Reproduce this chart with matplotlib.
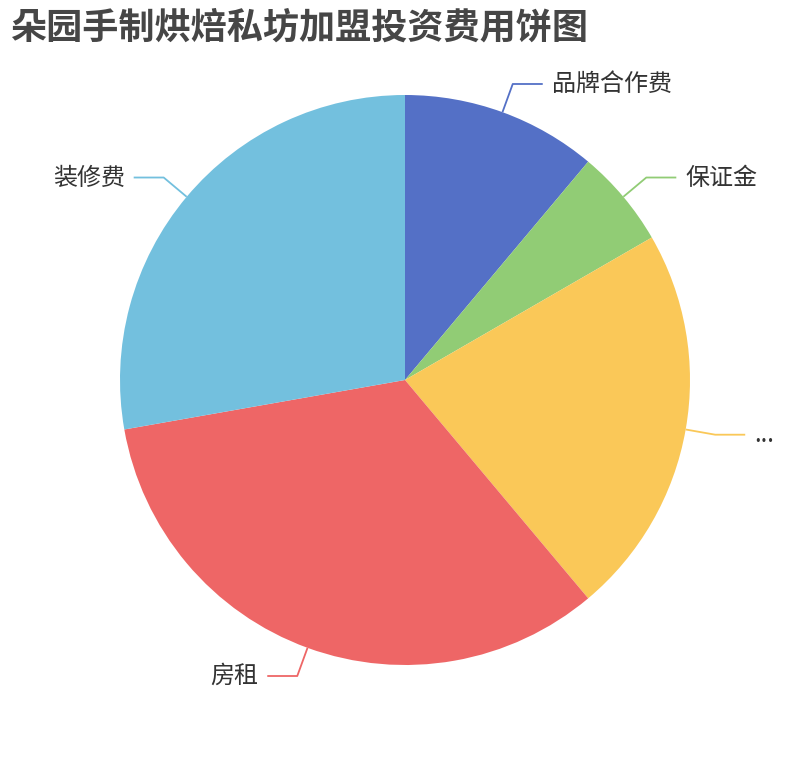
import numpy as np
import matplotlib
matplotlib.use("Agg")
import matplotlib.pyplot as plt

plt.rcParams['font.family'] = ['Noto Sans CJK SC', 'DejaVu Sans']

names = ["品牌合作费", "保证金", "...", "房租", "装修费"]
values = [4, 2, 8, 12, 10]
colors = ["#5470c6", "#91cc75", "#fac858", "#ee6666", "#73c0de"]

W, H = 810, 760
fig = plt.figure(figsize=(W / 100, H / 100), dpi=100)
ax = fig.add_axes([0, 0, 1, 1])

cx, cy, r = 405, H - 380, 285
wedges, _ = ax.pie(values, colors=colors, startangle=90, counterclock=False,
                   center=(cx, cy), radius=r, frame=True,
                   wedgeprops=dict(linewidth=0))

# label lines like echarts: radial piece, then horizontal piece
for w, name, col in zip(wedges, names, colors):
    mid = np.deg2rad((w.theta1 + w.theta2) / 2)
    x0, y0 = cx + r * np.cos(mid), cy + r * np.sin(mid)
    x1, y1 = cx + (r + 30) * np.cos(mid), cy + (r + 30) * np.sin(mid)
    side = 1 if np.cos(mid) >= 0 else -1
    x2 = x1 + side * 30
    ax.plot([x0, x1, x2], [y0, y1, y1], color=col, lw=1.3, solid_capstyle="butt")
    ax.text(x2 + side * 9, y1, name, ha="left" if side > 0 else "right",
            va="center", fontsize=17.3, color="#333333")

ax.set_xlim(0, W)
ax.set_ylim(0, H)
ax.set_aspect("auto")
ax.axis("off")

fig.text(10 / W, 1 - 10 / H, "朵园手制烘焙私坊加盟投资费用饼图", ha="left", va="top",
         fontsize=26, fontweight="bold", color="#464646")

fig.savefig("out.png", dpi=100)
